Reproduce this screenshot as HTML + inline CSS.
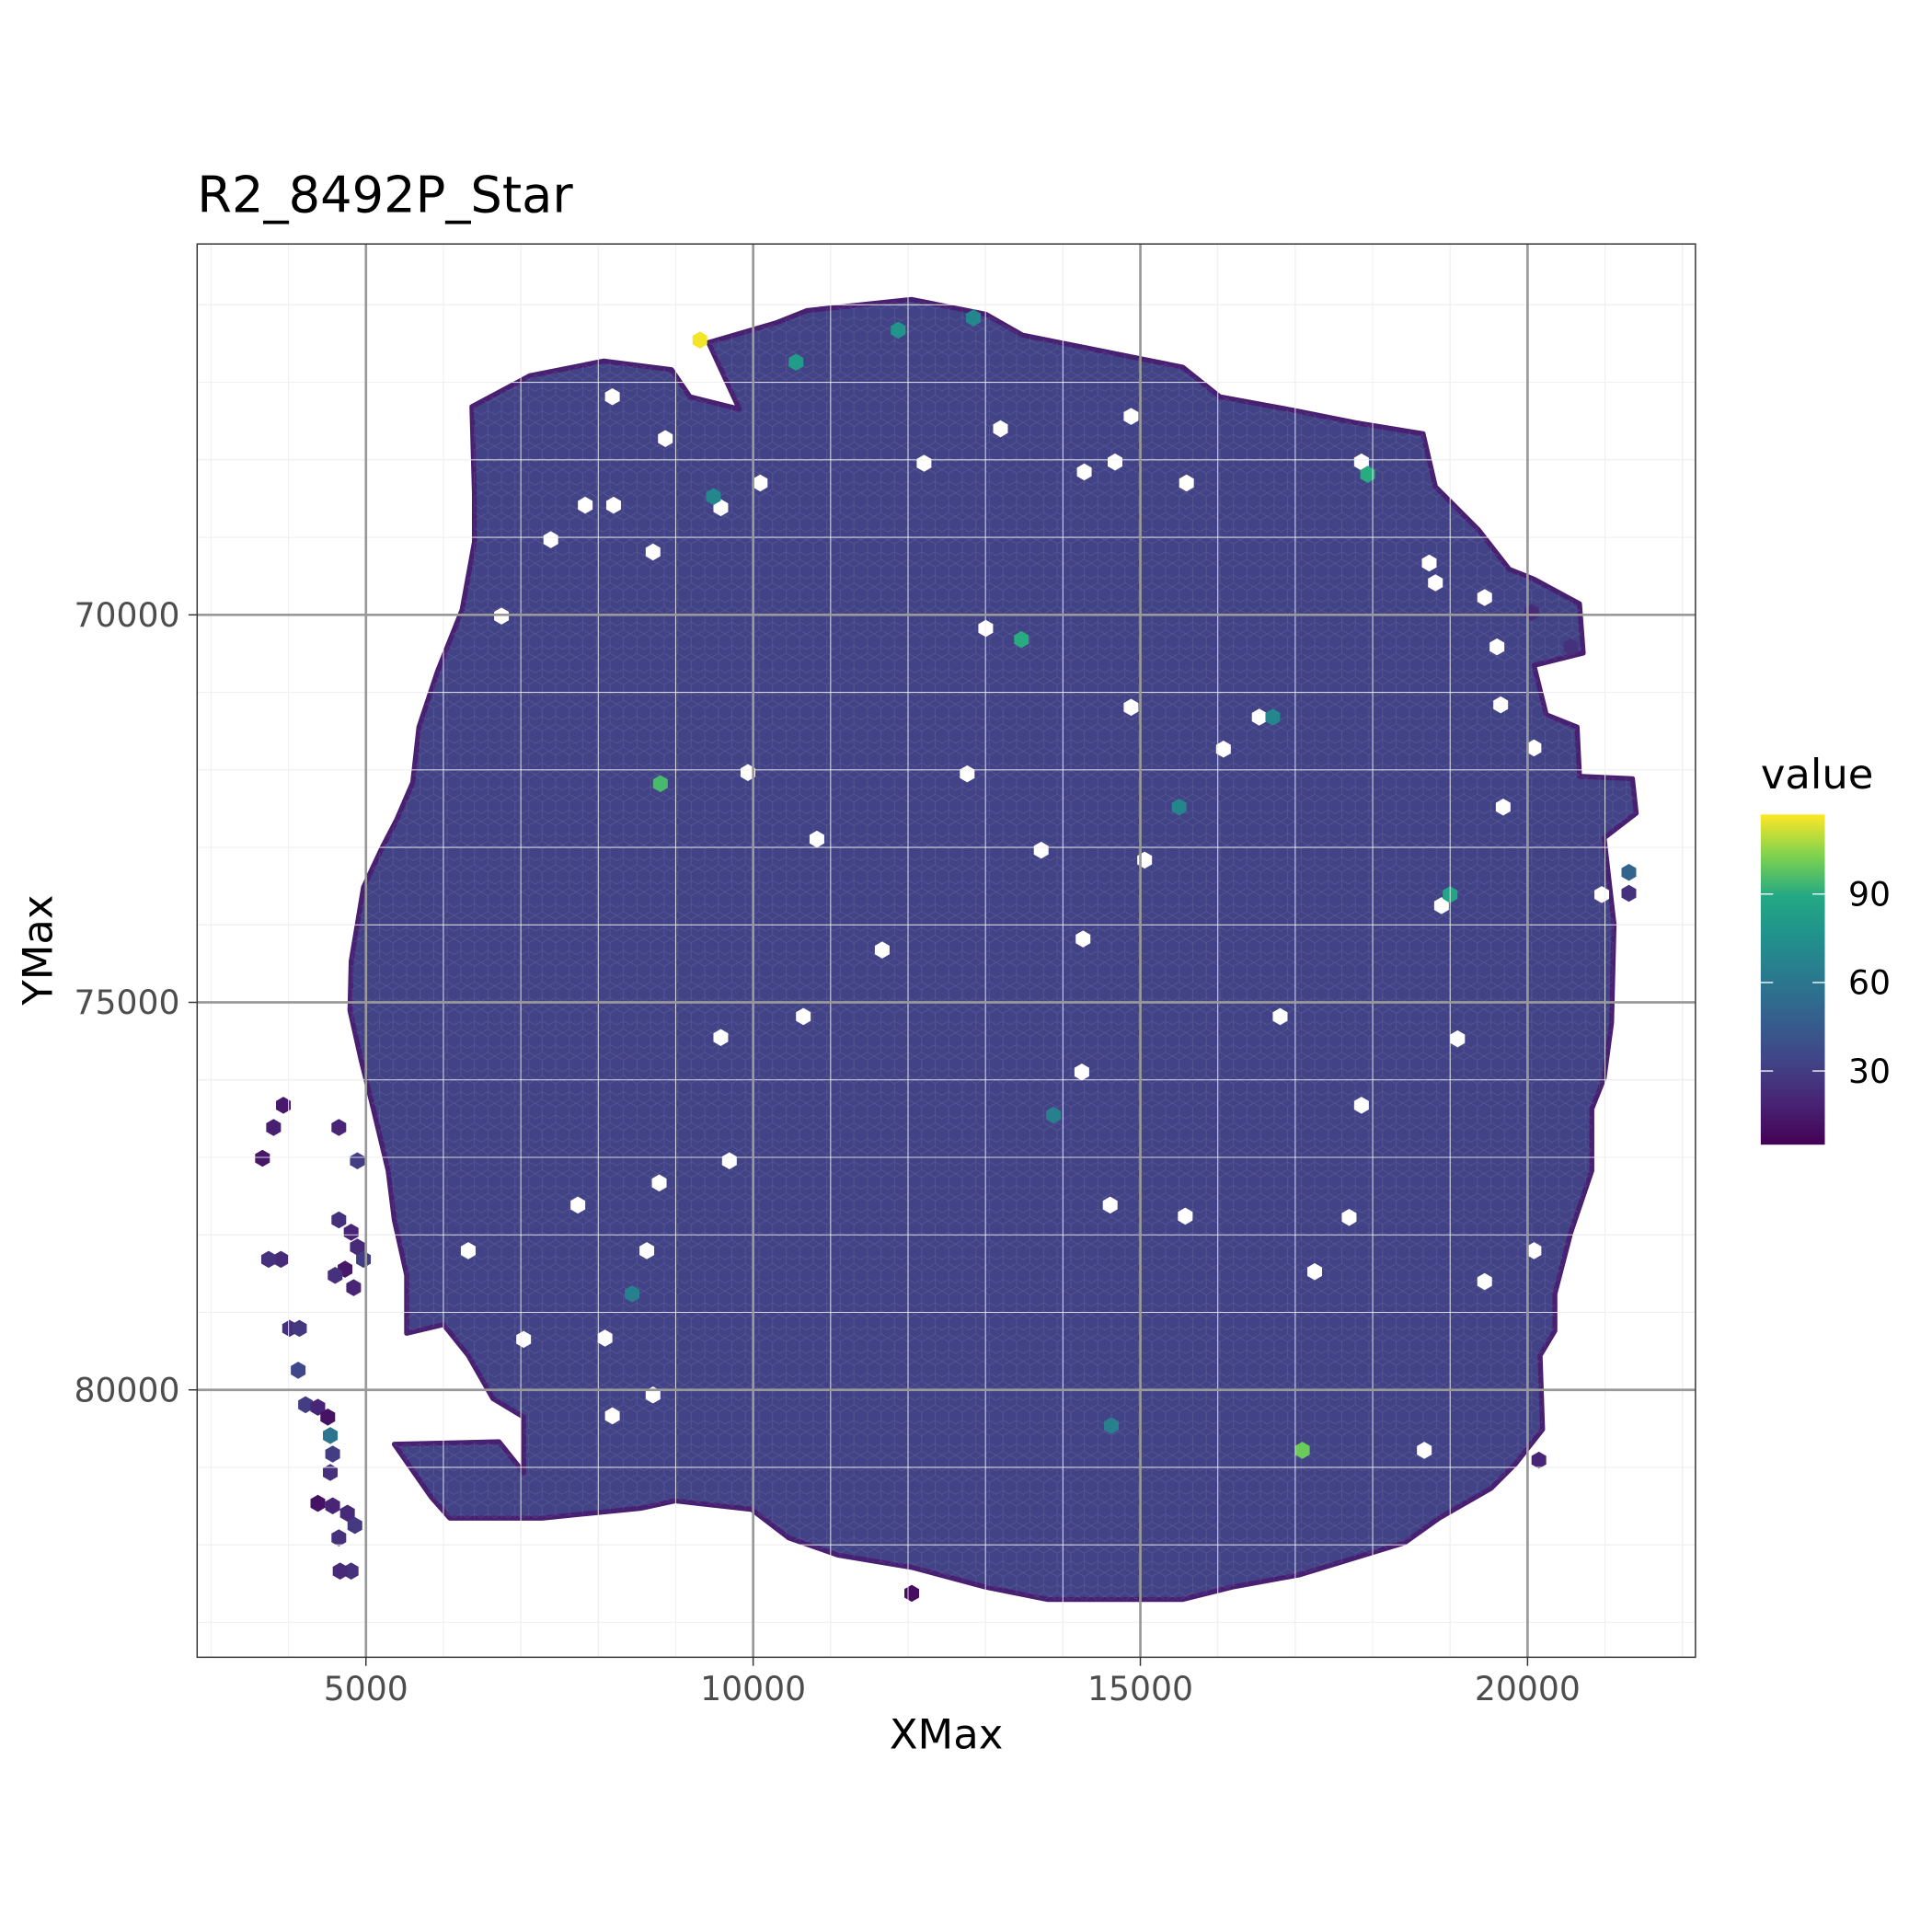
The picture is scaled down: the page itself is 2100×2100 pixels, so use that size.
<!DOCTYPE html>
<html><head><meta charset="utf-8"><style>
html,body{margin:0;padding:0;background:#fff;width:2100px;height:2100px;overflow:hidden}
svg{display:block}
text{font-family:"DejaVu Sans","Liberation Sans",sans-serif}
</style></head><body>
<svg id="chart" width="2100" height="2100" xmlns="http://www.w3.org/2000/svg">
<defs>
<linearGradient id="viridis" x1="0" y1="1" x2="0" y2="0">
<stop offset="0" stop-color="#440154"/><stop offset="0.13" stop-color="#482475"/><stop offset="0.25" stop-color="#414487"/><stop offset="0.38" stop-color="#355f8d"/><stop offset="0.5" stop-color="#2a788e"/><stop offset="0.63" stop-color="#21918c"/><stop offset="0.75" stop-color="#22a884"/><stop offset="0.87" stop-color="#7ad151"/><stop offset="1" stop-color="#fde725"/>
</linearGradient>
<pattern id="hexpat" patternUnits="userSpaceOnUse" width="11" height="19.05">
<path d="M5.5,0 L11,3.17 L11,9.52 L5.5,12.7 L0,9.52 L0,3.17 Z M0,9.52 L0,15.87 M11,9.52 L11,15.87 M0,15.87 L5.5,19.05 L11,15.87" fill="none" stroke="rgba(255,255,255,0.13)" stroke-width="0.5"/>
</pattern>
<clipPath id="panelclip"><rect x="160" y="198" width="1216" height="1147"/></clipPath>
</defs>
<rect x="0" y="0" width="2100" height="2100" fill="#fff"/>
<g transform="scale(1.3393)">
<text x="160" y="172" style="font-size:40.5px" fill="#000">R2_8492P_Star</text>
<rect x="160" y="198" width="1216" height="1147" fill="#fff"/>
<g id="minor"></g>
<g id="data" clip-path="url(#panelclip)"></g>
<g id="minor2"></g>
<g id="major"></g>
<rect x="160" y="198" width="1216" height="1147" fill="none" stroke="#333" stroke-width="1.1"/>
<g id="axes"></g>
<text x="768" y="1419" style="font-size:33.5px" text-anchor="middle" fill="#000">XMax</text>
<text transform="translate(42,771) rotate(-90)" style="font-size:33.5px" text-anchor="middle" fill="#000">YMax</text>
<g>
<text x="1429" y="640" style="font-size:33.5px" fill="#000">value</text>
<rect x="1429" y="661" width="52" height="268" fill="url(#viridis)"/>
<g id="legendticks"></g>
</g>
</g>
</svg>
<script>
var xTicks=[5000,10000,15000,20000];
var yTicks=[70000,75000,80000];
var legendTicks=[30,60,90];
var valueMin=5, valueMax=117;
var tissueX=[6368,7116,8071,8946,9184,9821,9423,10298,10696,12048,13003,13480,14276,15548,16026,16980,17776,18651,18810,19367,19764,20083,20671,20719,20083,20242,20640,20671,21355,21403,20989,21117,21085,20989,20830,20830,20560,20353,20353,20162,20194,19844,19526,18858,18412,17060,16185,15548,13798,13003,12048,11094,10457,9980,8993,8548,7275,6082,5843,5366,6718,7036,7036,6639,6321,6002,5525,5525,5366,5286,5095,4936,4793,4809,4968,5207,5398,5604,5684,5923,6241,6400,6400];
var tissueY=[67313,66915,66725,66836,67186,67345,66486,66232,66073,65930,66120,66391,66550,66804,67186,67361,67520,67663,68346,68903,69412,69539,69857,70493,70652,71288,71447,72083,72115,72560,72878,73991,75263,75978,76376,77171,77966,78761,79238,79556,80510,80955,81273,81655,81973,82386,82545,82704,82704,82545,82291,82132,81909,81543,81432,81528,81655,81655,81384,80701,80669,81066,80351,80112,79556,79158,79270,78522,77807,77171,76376,75740,75104,74468,73514,73005,72639,72162,71447,70731,69936,69062,68426];
var tissueValue=32;
var rimValue=18;
var isleX=[3934,3807,3664,3902,3743,4014,4141,4125,4220,4379,4507,4539,4570,4539,4379,4570,4761,4650,4857,4809,4666,4650,4889,4650,4809,4889,4730,4602,4841,4968,12048,21308,21308,20146,20051,20560];
var isleY=[76328,76614,77012,78316,78316,79206,79206,79747,80192,80224,80351,80589,80828,81066,81464,81496,81591,81909,81750,82338,82338,76614,77044,77807,77966,78157,78443,78522,78681,78316,82625,73323,73593,80907,69968,70413];
var isleV=[15,18,14,22,25,24,28,35,30,20,12,60,30,25,12,20,22,25,28,25,22,20,30,25,20,22,15,25,20,30,10,50,25,20,22,25];
var holeX=[8866,8182,10091,9582,7387,7832,8198,8707,6750,12207,13194,14880,14276,14673,15596,13003,14880,16535,16073,12764,9932,10823,13719,15055,11666,14260,10648,16805,9582,14244,17855,19096,9693,8787,7737,6321,8627,14610,15580,17696,17251,19446,7036,8087,8707,8182,18667,20958,18889,19685,20083,17855,18730,18810,19446,19653,20083,19605];
var holeY=[67726,67186,68299,68617,69030,68585,68585,69189,70016,68044,67599,67440,68156,68028,68299,70175,71193,71320,71733,72051,72035,72894,73037,73164,74325,74182,75183,75183,75454,75899,76328,75470,77044,77330,77616,78204,78204,77616,77759,77775,78475,78602,79349,79333,80065,80335,80780,73609,73752,72480,78204,68028,69332,69587,69777,71161,71717,70413];
var hotX=[9312,17092,8802,13464,17935,19000,10553,11873,12844,9487,16710,15501,13878,8437,14625];
var hotY=[66454,80780,72178,70318,68187,73609,66740,66327,66168,68474,71320,72480,76455,78761,80462];
var hotV=[116,100,95,90,90,88,82,78,70,70,70,68,65,65,65];

var NS='http://www.w3.org/2000/svg';
function X(v){return 297+(v-5000)*0.06285;}
function Y(v){return 499+(v-70000)*0.0629;}
var stops=[[0,[68,1,84]],[0.13,[72,36,117]],[0.25,[65,68,135]],[0.38,[53,95,141]],[0.5,[42,120,142]],[0.63,[33,145,140]],[0.75,[34,168,132]],[0.87,[122,209,81]],[1,[253,231,37]]];
function color(v){var t=(v-valueMin)/(valueMax-valueMin);t=Math.max(0,Math.min(1,t));
 for(var i=1;i<stops.length;i++){if(t<=stops[i][0]){var a=stops[i-1],b=stops[i],f=(t-a[0])/(b[0]-a[0]);
 var c=[0,1,2].map(function(k){return Math.round(a[1][k]+(b[1][k]-a[1][k])*f);});return 'rgb('+c.join(',')+')';}}return 'rgb(253,231,37)';}
function el(tag,attrs,parent){var e=document.createElementNS(NS,tag);for(var k in attrs){e.setAttribute(k,String(attrs[k]));}parent.appendChild(e);return e;}
function hexPath(cx,cy){var r=110,w=95,p=[[0,-r],[w,-r/2],[w,r/2],[0,r],[-w,r/2],[-w,-r/2]];
 return 'M'+p.map(function(q){return X(cx+q[0]).toFixed(2)+','+Y(cy+q[1]).toFixed(2);}).join('L')+'Z';}

var minor=document.getElementById('minor'),minor2=document.getElementById('minor2'),major=document.getElementById('major');
for(var gx=3000;gx<=22000;gx+=1000){
 var l=el('line',{x1:X(gx),x2:X(gx),y1:198,y2:1345,stroke:'#ebebeb','stroke-width':0.7},minor);
 
 
 var l2=el('line',{x1:X(gx),x2:X(gx),y1:198,y2:1345,stroke:'rgba(240,240,240,0.85)','stroke-width':0.8},minor2);
 
 
}
for(var gy=66000;gy<=83000;gy+=1000){
 var m=el('line',{x1:160,x2:1376,y1:Y(gy),y2:Y(gy),stroke:'#ebebeb','stroke-width':0.7},minor);
 
 
 var m2=el('line',{x1:160,x2:1376,y1:Y(gy),y2:Y(gy),stroke:'rgba(240,240,240,0.85)','stroke-width':0.8},minor2);
 
 
}
var dataG=document.getElementById('data');
var pts=tissueX.map(function(x,i){return X(x).toFixed(2)+','+Y(tissueY[i]).toFixed(2);}).join(' ');
var body=el('polygon',{points:pts,fill:color(tissueValue),stroke:color(rimValue),'stroke-width':4,'stroke-linejoin':'round'},dataG);


var tex=el('polygon',{points:pts,fill:'url(#hexpat)'},dataG);


isleX.forEach(function(x,i){var h=el('path',{d:hexPath(x,isleY[i]),fill:color(isleV[i])},dataG);
 
 });
holeX.forEach(function(x,i){var h=el('path',{d:hexPath(x,holeY[i]),fill:'#fff'},dataG);
 
 });
hotX.forEach(function(x,i){var h=el('path',{d:hexPath(x,hotY[i]),fill:color(hotV[i])},dataG);
 
 });

var axes=document.getElementById('axes');
xTicks.forEach(function(t){
 var l=el('line',{x1:X(t),x2:X(t),y1:198,y2:1345,stroke:'#999','stroke-width':2},major);
 
 
 var tk=el('line',{x1:X(t),x2:X(t),y1:1345,y2:1352,stroke:'#333','stroke-width':1.1},axes);
 
 
 var tx=el('text',{x:X(t),y:1380,style:'font-size:27px','text-anchor':'middle',fill:'#4d4d4d'},axes);
 tx.textContent=String(t);
 
 
});
yTicks.forEach(function(t){
 var l=el('line',{x1:160,x2:1376,y1:Y(t),y2:Y(t),stroke:'#999','stroke-width':2},major);
 
 
 var tk=el('line',{x1:153,x2:160,y1:Y(t),y2:Y(t),stroke:'#333','stroke-width':1.1},axes);
 
 
 var tx=el('text',{x:146,y:Y(t)+9.5,style:'font-size:27px','text-anchor':'end',fill:'#4d4d4d'},axes);
 tx.textContent=String(t);
 
 
});
var lt=document.getElementById('legendticks');
function LY(v){return 929-(v-valueMin)/(valueMax-valueMin)*268;}
legendTicks.forEach(function(v){
 var a=el('line',{x1:1429,x2:1439,y1:LY(v),y2:LY(v),stroke:'#fff','stroke-width':1},lt);
 
 
 var b=el('line',{x1:1471,x2:1481,y1:LY(v),y2:LY(v),stroke:'#fff','stroke-width':1},lt);
 
 
 var tx=el('text',{x:1500,y:LY(v)+9.5,style:'font-size:27px',fill:'#000'},lt);
 tx.textContent=String(v);
 
 
});
</script>
</body></html>
